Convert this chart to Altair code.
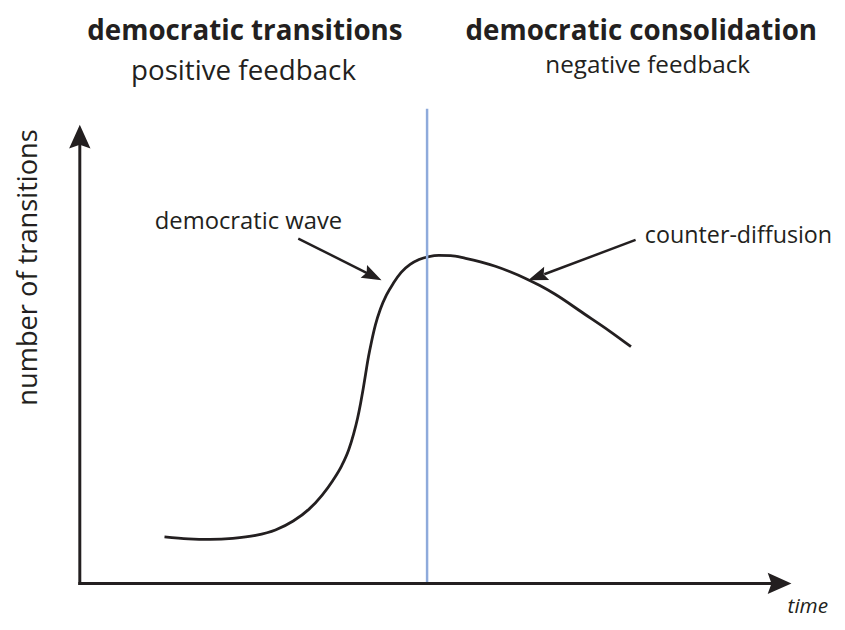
import math
import altair as alt
import pandas as pd

# ---------------- data (conceptual units: origin of the axes = 0,0; arrow tips = 100) -------------
time = [11.90, 15.24, 18.30, 21.50, 24.70, 27.49, 29.99, 32.22, 34.03, 35.56, 36.81, 37.79,
        38.48, 39.04, 39.46, 39.81, 40.15, 40.57, 40.99, 41.54, 42.24, 43.08, 44.05, 45.16,
        46.42, 47.67, 49.06, 50.45, 52.12, 54.21, 56.30, 58.39, 60.47, 62.56, 64.65, 66.74,
        70.91, 74.39, 77.45]
transitions = [10.15, 9.72, 9.61, 9.83, 10.48, 11.66, 13.61, 16.20, 19.22, 22.46, 25.70, 29.16,
               32.61, 36.07, 39.31, 42.33, 45.57, 49.46, 52.70, 56.37, 59.83, 62.85, 65.44, 67.82,
               69.55, 70.63, 71.27, 71.53, 71.49, 70.89, 70.13, 69.16, 67.97, 66.57, 64.95, 63.11,
               58.75, 55.08, 51.62]

divider_time = 48.8
divider_top = 103.5

arrow_names = ["democratic wave", "counter-diffusion"]
arrow_tail_x = [30.7, 78.1]
arrow_tail_y = [75.2, 74.9]
arrow_tip_x = [42.4, 63.0]
arrow_tip_y = [66.1, 66.1]

title_texts = ["democratic transitions", "democratic consolidation"]
title_x = [23.2, 78.9]
title_y = [118.6, 118.4]

subtitle_texts = ["positive feedback", "negative feedback"]
subtitle_x = [23.0, 79.8]
subtitle_y = [109.7, 111.4]
subtitle_sizes = [28, 24.5]

# ---------------- layout ----------------
W, H = 837, 614
ORIGIN_X, ORIGIN_Y = 72.5, 578.0      # plot-area position of the axes origin
KX, KY = 7.185, 4.63                   # pixels per unit
INK = "#231f20"
BLUE = "#8eaadb"
FONT = "Open Sans"

xs = alt.Scale(domain=[-ORIGIN_X / KX, (W - ORIGIN_X) / KX], nice=False, zero=False)
ys = alt.Scale(domain=[-(H - ORIGIN_Y) / KY, ORIGIN_Y / KY], nice=False, zero=False)


def X(f="x"):
    return alt.X(f"{f}:Q", scale=xs, axis=None)


def Y(f="y"):
    return alt.Y(f"{f}:Q", scale=ys, axis=None)


curve_df = pd.DataFrame({"x": time, "y": transitions})
curve = alt.Chart(curve_df).mark_line(
    interpolate="monotone", color=INK, strokeWidth=2.8
).encode(x=X(), y=Y())

divider = alt.Chart(pd.DataFrame({"x": [divider_time], "y": [0.0], "y2": [divider_top]})).mark_rule(
    color=BLUE, strokeWidth=2.5
).encode(x=X(), y=Y(), y2="y2:Q")

# axes as arrows
axes_df = pd.DataFrame({"x": [0.0, 0.0], "x2": [97.5, 0.0], "y": [0.0, 0.0], "y2": [0.0, 95.5]})
axes = alt.Chart(axes_df).mark_rule(color=INK, strokeWidth=3, strokeCap="square").encode(
    x=X(), x2="x2:Q", y=Y(), y2="y2:Q"
)
HEAD = "M0,0 L-1,-0.45 L-0.84,0 L-1,0.45 Z"
heads_df = pd.DataFrame({"x": [100.0, 0.0], "y": [0.0, 100.0], "angle": [0.0, 270.0]})
heads = alt.Chart(heads_df).mark_point(
    shape=HEAD, filled=True, size=(2 * 24) ** 2, color=INK, opacity=1, strokeWidth=0
).encode(x=X(), y=Y(), angle=alt.Angle("angle:Q", scale=None))

# annotation arrows
rows = []
for n, tx, ty, hx, hy in zip(arrow_names, arrow_tail_x, arrow_tail_y, arrow_tip_x, arrow_tip_y):
    dxp = (hx - tx) * KX
    dyp = -(hy - ty) * KY
    ang = math.degrees(math.atan2(dyp, dxp)) % 360
    rows.append({"name": n, "x": tx, "y": ty,
                 "x2": tx + 0.85 * (hx - tx), "y2": ty + 0.85 * (hy - ty),
                 "hx": hx, "hy": hy, "angle": ang})
ann_df = pd.DataFrame(rows)
ann_lines = alt.Chart(ann_df).mark_rule(color=INK, strokeWidth=2.5).encode(
    x=X(), x2="x2:Q", y=Y(), y2="y2:Q"
)
AHEAD = "M0,0 L-1,-0.36 L-0.84,0 L-1,0.36 Z"
ann_heads = alt.Chart(ann_df).mark_point(
    shape=AHEAD, filled=True, size=(2 * 20) ** 2, color=INK, opacity=1, strokeWidth=0
).encode(x=X("hx"), y=Y("hy"), angle=alt.Angle("angle:Q", scale=None))

# texts
titles = alt.Chart(pd.DataFrame({"x": title_x, "y": title_y, "t": title_texts})).mark_text(
    font=FONT, fontWeight="bold", fontSize=28, color=INK, align="center", baseline="alphabetic"
).encode(x=X(), y=Y(), text="t:N")

subtitles = alt.Chart(pd.DataFrame({"x": subtitle_x, "y": subtitle_y, "t": subtitle_texts,
                                    "s": subtitle_sizes})).mark_text(
    font=FONT, color=INK, align="center", baseline="alphabetic"
).encode(x=X(), y=Y(), text="t:N", size=alt.Size("s:Q", scale=None))

wave_label = alt.Chart(pd.DataFrame({"x": [23.7], "y": [77.3], "t": ["democratic wave"]})).mark_text(
    font=FONT, fontSize=24, color=INK, align="center", baseline="alphabetic"
).encode(x=X(), y=Y(), text="t:N")

counter_label = alt.Chart(pd.DataFrame({"x": [79.4], "y": [74.3], "t": ["counter-diffusion"]})).mark_text(
    font=FONT, fontSize=23.5, color=INK, align="left", baseline="alphabetic"
).encode(x=X(), y=Y(), text="t:N")

ylabel = alt.Chart(pd.DataFrame({"x": [-6.05], "y": [68.9], "t": ["number of transitions"]})).mark_text(
    font=FONT, fontSize=27.5, color=INK, align="center", baseline="alphabetic", angle=270
).encode(x=X(), y=Y(), text="t:N")

xlabel = alt.Chart(pd.DataFrame({"x": [105.15], "y": [-6.48], "t": ["time"]})).mark_text(
    font=FONT, fontSize=21, fontStyle="italic", color=INK, align="right", baseline="alphabetic"
).encode(x=X(), y=Y(), text="t:N")

chart = alt.layer(
    curve, divider, axes, heads, ann_lines, ann_heads,
    titles, subtitles, wave_label, counter_label, ylabel, xlabel
).properties(
    width=W, height=H, padding=0, background="white",
    autosize=alt.AutoSizeParams(type="none")
).configure_view(stroke=None)

chart.save("out.html", embed_options={"renderer": "svg", "actions": False})
